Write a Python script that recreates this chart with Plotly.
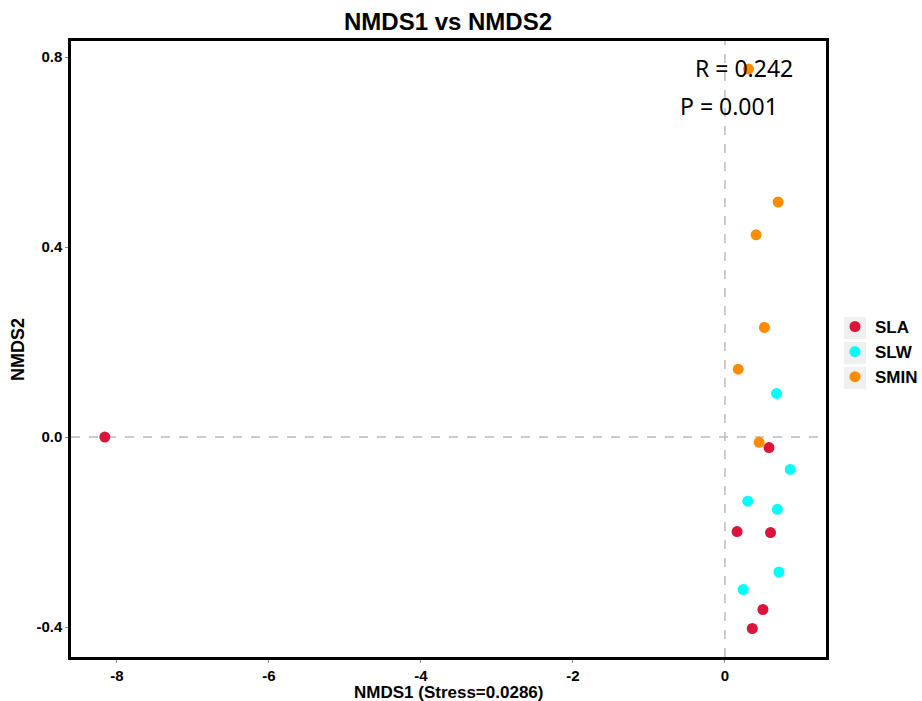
import plotly.graph_objects as go

groups = ["SLA", "SLW", "SMIN"]
colors = ["#DC143C", "#00FFFF", "#FF8C00"]

sla_x = [-8.16, 0.58, 0.16, 0.60, 0.50, 0.36]
sla_y = [0.000, -0.022, -0.199, -0.201, -0.363, -0.403]
slw_x = [0.68, 0.86, 0.30, 0.69, 0.71, 0.24]
slw_y = [0.092, -0.068, -0.135, -0.152, -0.284, -0.321]
smin_x = [0.31, 0.70, 0.41, 0.52, 0.175, 0.45]
smin_y = [0.775, 0.495, 0.426, 0.231, 0.143, -0.011]

xs = [sla_x, slw_x, smin_x]
ys = [sla_y, slw_y, smin_y]

x_ticks = [-8, -6, -4, -2, 0]
x_tick_labels = ["-8", "-6", "-4", "-2", "0"]
y_ticks = [-0.4, 0.0, 0.4, 0.8]
y_tick_labels = ["-0.4", "0.0", "0.4", "0.8"]

fig = go.Figure()
for g, c, x, y in zip(groups, colors, xs, ys):
    fig.add_trace(go.Scatter(x=x, y=y, mode="markers", name=g,
                             marker=dict(color=c, size=11, line=dict(width=0))))

fig.add_shape(type="line", xref="x", yref="paper", x0=0, x1=0, y0=0, y1=1,
              line=dict(color="#BBBBBB", width=1.5, dash="dash"), layer="below")
fig.add_shape(type="line", xref="paper", yref="y", x0=0, x1=1, y0=0, y1=0,
              line=dict(color="#BBBBBB", width=1.5, dash="dash"), layer="below")

# legend key backgrounds (ggplot style)
half = 11 / 616
for yc in [0.5341, 0.4935, 0.4529]:
    fig.add_shape(type="rect", xref="paper", yref="paper",
                  x0=1.0238, x1=1.0530, y0=yc - half, y1=yc + half,
                  fillcolor="#F0F0F0", line=dict(width=0), layer="below")

fig.add_annotation(x=0.959, y=0.956, xref="paper", yref="paper", text="R = 0.242",
                   showarrow=False, xanchor="right", yanchor="middle",
                   font=dict(family="Noto Sans", size=23, color="black"))
fig.add_annotation(x=0.939, y=0.8945, xref="paper", yref="paper", text="P = 0.001",
                   showarrow=False, xanchor="right", yanchor="middle",
                   font=dict(family="Noto Sans", size=23, color="black"))

# axis titles
fig.add_annotation(x=0.5, y=-35 / 616, xref="paper", yref="paper",
                   text="<b>NMDS1 (Stress=0.0286)</b>", showarrow=False,
                   xanchor="center", yanchor="middle", borderpad=0,
                   font=dict(family="Liberation Sans", size=17, color="black"))
fig.add_annotation(x=-53 / 755, y=0.5, xref="paper", yref="paper",
                   text="<b>NMDS2</b>", showarrow=False, textangle=-90,
                   xanchor="center", yanchor="middle",
                   font=dict(family="Liberation Sans", size=18, color="black"))

axis_common = dict(showgrid=False, zeroline=False, showline=True, linecolor="black",
                   linewidth=2.5, mirror=True, ticks="outside", tickcolor="#888888",
                   ticklen=3, tickwidth=1, automargin=False,
                   tickfont=dict(family="Liberation Sans", size=15, color="black", weight="bold"))

fig.update_layout(
    width=922, height=701,
    paper_bgcolor="white", plot_bgcolor="white",
    margin=dict(l=71, r=96, t=41, b=44, autoexpand=False),
    title=dict(text="<b>NMDS1 vs NMDS2</b>", x=448 / 922, xanchor="center",
               y=1 - 22 / 701, yanchor="middle", automargin=False,
               font=dict(family="Liberation Sans", size=24, color="black")),
    xaxis=dict(range=[-8.605, 1.33], tickvals=x_ticks, ticktext=x_tick_labels,
               **axis_common),
    yaxis=dict(range=[-0.463, 0.834], tickvals=y_ticks, ticktext=y_tick_labels,
               **axis_common),
    legend=dict(x=1.0119, y=0.565, xanchor="left", yanchor="top",
                font=dict(family="Liberation Sans", size=17, color="black", weight="bold"),
                tracegroupgap=0, itemwidth=30, bgcolor="rgba(0,0,0,0)"),
    showlegend=True,
)

fig.write_html("out.html", config={"displayModeBar": False},
               post_script="document.body.style.margin='0px';")
